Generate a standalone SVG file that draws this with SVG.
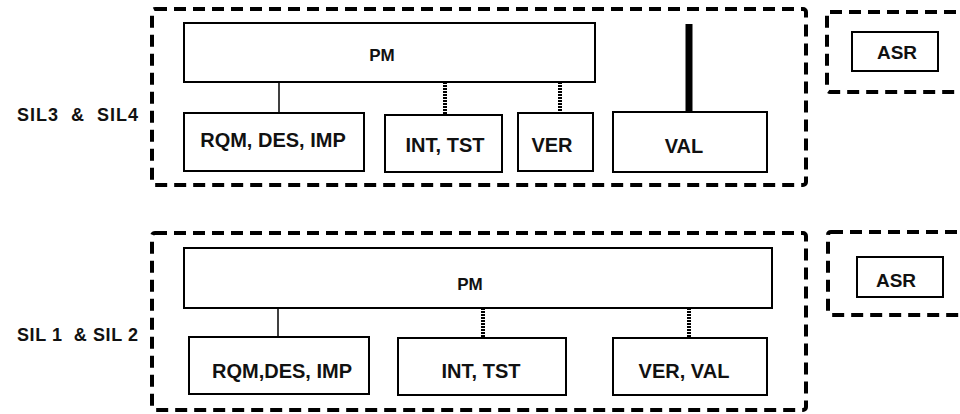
<svg xmlns="http://www.w3.org/2000/svg" width="960" height="414" viewBox="0 0 960 414">
<style>
.bg{fill:#fff}
.grp{fill:none;stroke:#000;stroke-width:4;stroke-dasharray:12 7}
.box{fill:#fff;stroke:#000;stroke-width:2}
.t{font-family:"Liberation Sans",Arial,sans-serif;font-weight:bold;fill:#111;text-anchor:middle;font-size:20px}
.pm{font-size:17px}
.asr{font-size:19px}
.lbl{font-family:"Liberation Sans",Arial,sans-serif;font-weight:bold;fill:#111;font-size:18px}
.solid{stroke:#000;stroke-width:1.5}
.dot{stroke:#000;stroke-width:4;stroke-dasharray:2 1}
.thick{stroke:#000;stroke-width:7}
</style>
<rect class="bg" x="0" y="0" width="960" height="414"/>
<g id="sil34-group"><rect class="grp" x="152" y="9" width="654" height="176" rx="3"/></g>
<g id="asr-group-top"><rect class="grp" x="827" y="12" width="150" height="80" rx="3"/></g>
<g id="sil12-group"><rect class="grp" x="152" y="233" width="654" height="177" rx="3"/></g>
<g id="asr-group-bottom"><rect class="grp" x="828" y="232" width="150" height="83" rx="3"/></g>
<g id="connectors">
<line class="solid" x1="279" y1="82" x2="279" y2="113"/>
<line class="dot" x1="445" y1="82" x2="445" y2="115"/>
<line class="dot" x1="560" y1="82" x2="560" y2="113"/>
<line class="thick" x1="689" y1="24" x2="689" y2="112"/>
<line class="solid" x1="278" y1="308" x2="278" y2="337"/>
<line class="dot" x1="483" y1="308" x2="483" y2="338"/>
<line class="dot" x1="689" y1="308" x2="689" y2="338"/>
</g>
<g id="pm-top"><rect class="box" x="184" y="23" width="411" height="59"/><text class="t pm" x="382" y="61">PM</text></g>
<g id="rqm-top"><rect class="box" x="184" y="113" width="180" height="58"/><text class="t" x="273" y="147">RQM, DES, IMP</text></g>
<g id="int-top"><rect class="box" x="385" y="115" width="117" height="57"/><text class="t" x="445" y="152">INT, TST</text></g>
<g id="ver-top"><rect class="box" x="518" y="113" width="75" height="58"/><text class="t" x="552" y="152">VER</text></g>
<g id="val-top"><rect class="box" x="613" y="112" width="154" height="60"/><text class="t" x="684" y="153">VAL</text></g>
<g id="asr-top"><rect class="box" x="852" y="32" width="86" height="39"/><text class="t asr" x="897" y="59">ASR</text></g>
<g id="pm-bottom"><rect class="box" x="184" y="248" width="588" height="60"/><text class="t pm" x="470" y="290">PM</text></g>
<g id="rqm-bottom"><rect class="box" x="189" y="337" width="180" height="57"/><text class="t" x="282" y="378">RQM,DES, IMP</text></g>
<g id="int-bottom"><rect class="box" x="398" y="338" width="168" height="57"/><text class="t" x="481" y="378">INT, TST</text></g>
<g id="vervar-bottom"><rect class="box" x="613" y="338" width="154" height="57"/><text class="t" x="684" y="378">VER, VAL</text></g>
<g id="asr-bottom"><rect class="box" x="857" y="257" width="86" height="40"/><text class="t asr" x="896" y="287">ASR</text></g>
<g id="labels">
<text class="lbl" x="17" y="121" textLength="121" lengthAdjust="spacing" xml:space="preserve">SIL3  &amp;  SIL4</text>
<text class="lbl" x="17" y="341" textLength="121" lengthAdjust="spacing" xml:space="preserve">SIL 1  &amp; SIL 2</text>
</g>
</svg>
